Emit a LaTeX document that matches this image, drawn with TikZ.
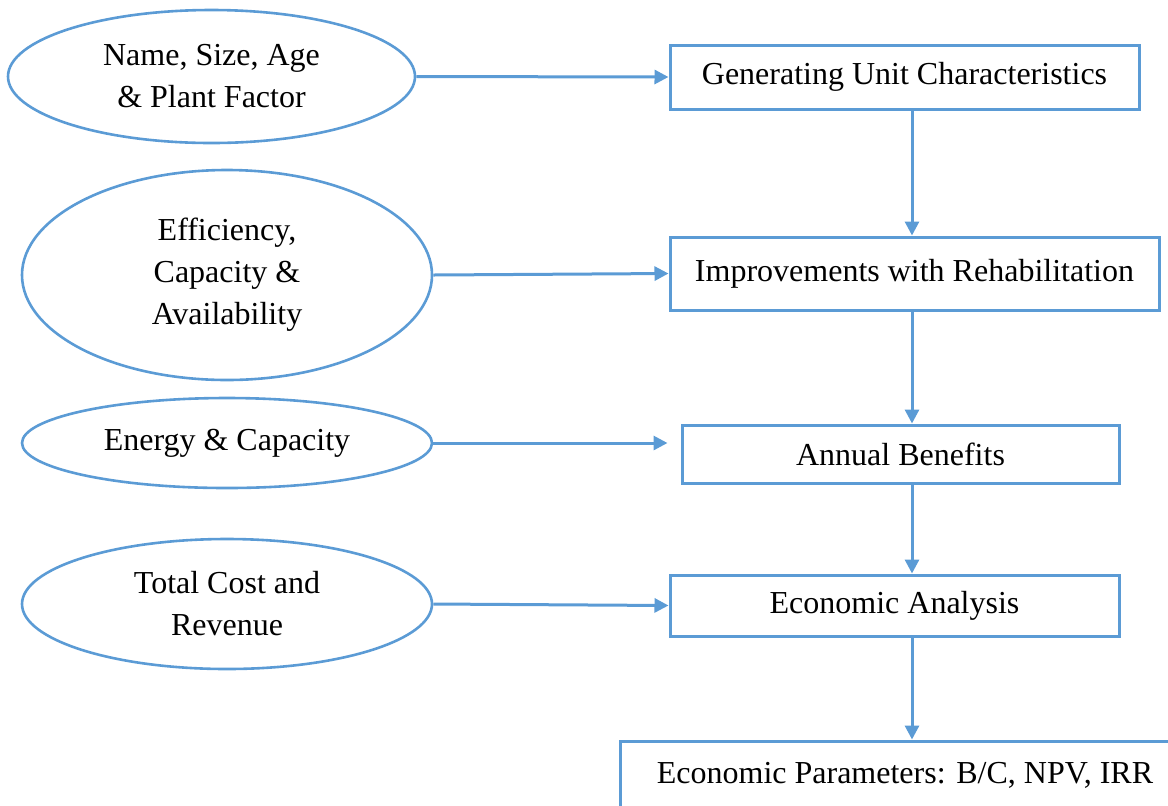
\documentclass[tikz,border=0pt]{standalone}
\usepackage{fontspec}
\setmainfont{Liberation Serif}
\usetikzlibrary{shapes.geometric, arrows.meta}
\definecolor{flowblue}{RGB}{91,155,213}

\begin{document}
\begin{tikzpicture}[x=0.5pt, y=-0.5pt,
  every node/.style={font=\fontsize{16}{21}\selectfont},
  inputoval/.style={ellipse, draw=flowblue, line width=1.3pt, inner sep=0pt, align=center},
  stagebox/.style={rectangle, draw=flowblue, line width=1.5pt, inner sep=0pt, align=center},
  flow/.style={-{Triangle[length=7pt,width=7pt]}, flowblue, line width=1.5pt}]
  \useasboundingbox (0,0) rectangle (1168,805);
  % Left: inputs
  \node[inputoval, minimum width=203.5pt, minimum height=66.5pt] (unitdata) at (211.5,76.5) {Name, Size, Age\\\& Plant Factor};
  \node[inputoval, minimum width=205pt, minimum height=105pt] (perf) at (227,275) {Efficiency,\\Capacity \&\\Availability};
  \node[inputoval, minimum width=205pt, minimum height=45pt] (energy) at (227,443) {Energy \& Capacity};
  \node[inputoval, minimum width=205pt, minimum height=65pt] (cost) at (227,604) {Total Cost and\\Revenue};
  % Right: stages
  \node[stagebox, minimum width=234.5pt, minimum height=32pt] (genunit) at (904.5,77) {Generating Unit Characteristics};
  \node[stagebox, minimum width=244.5pt, minimum height=36.5pt] (improve) at (914.5,273.5) {Improvements with Rehabilitation};
  \node[stagebox, minimum width=218.5pt, minimum height=29pt] (benefit) at (900.5,454) {Annual Benefits};
  \node[stagebox, minimum width=224.5pt, minimum height=30.5pt] (econ) at (894.5,605.5) {Economic Analysis};
  \node[stagebox, minimum width=285pt, minimum height=34pt] (params) at (905,775) {Economic Parameters: B/C, NPV, IRR};
  % Inputs into stages
  \draw[flow] (unitdata.east) -- (genunit.west);
  \draw[flow] (perf.east) -- (improve.west);
  \draw[flow, shorten >=6.5pt] (energy.east) -- (energy.east -| benefit.west);
  \draw[flow] (cost.east) -- (econ.west);
  % Spine
  \coordinate (spine) at (912,0);
  \draw[flow] (genunit.south -| spine) -- (improve.north -| spine);
  \draw[flow] (improve.south -| spine) -- (benefit.north -| spine);
  \draw[flow] (benefit.south -| spine) -- (econ.north -| spine);
  \draw[flow] (econ.south -| spine) -- (params.north -| spine);
\end{tikzpicture}
\end{document}
